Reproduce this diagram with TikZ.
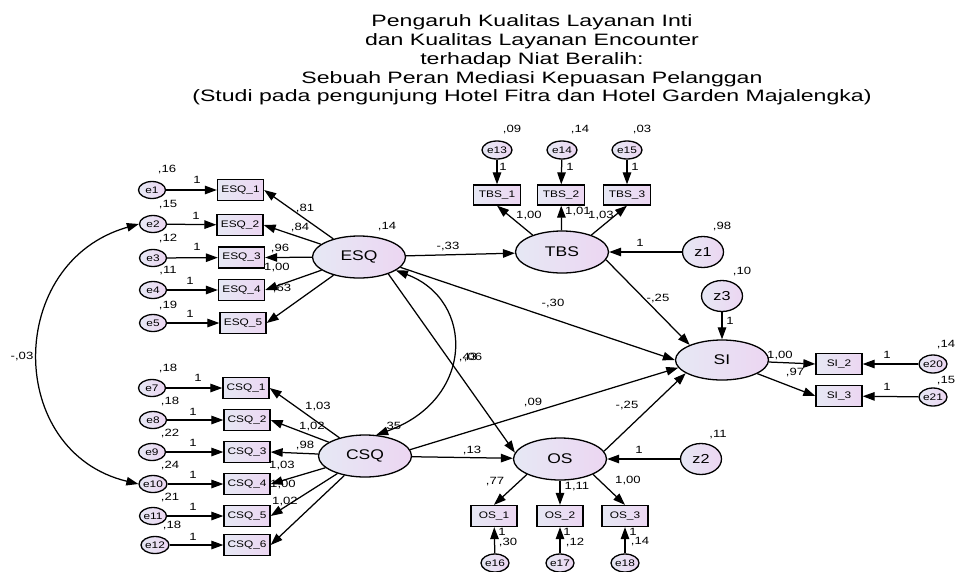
\documentclass[tikz,border=0pt]{standalone}
\usepackage{fontspec}
\setmainfont{Liberation Sans}[FakeStretch=1.25]
\newfontfamily\titlefont{Liberation Sans}[FakeStretch=1.4]
\usetikzlibrary{shapes.geometric,arrows.meta,shadings}
\definecolor{lavL}{RGB}{230,232,244}
\definecolor{lavR}{RGB}{236,214,242}
\begin{document}
\begin{tikzpicture}[x=1pt,y=-1pt,
 every node/.style={inner sep=0pt},
 fillg/.style={left color=lavL,right color=lavR,draw=black,line width=1.3pt},
 lat/.style={fillg,ellipse,minimum width=93pt,minimum height=42pt,font=\fontsize{14}{14}\selectfont},
 err/.style={fillg,ellipse,minimum width=28pt,minimum height=18pt,font=\fontsize{9.5}{9.5}\selectfont},
 dst/.style={fillg,ellipse,minimum width=41pt,minimum height=31pt,font=\fontsize{13}{13}\selectfont},
 obs/.style={fillg,rectangle,minimum width=46pt,minimum height=21pt,font=\fontsize{9.5}{9.5}\selectfont},
 lbl/.style={font=\fontsize{10.5}{10.5}\selectfont},
 arr/.style={line width=1.25pt,-{Triangle[length=12pt,width=8.5pt]}},
 dbl/.style={line width=1.25pt,{Triangle[length=12pt,width=8.5pt]}-{Triangle[length=12pt,width=8.5pt]}},
]
\fill[white] (0,0) rectangle (956,571);
\useasboundingbox (0,0) rectangle (956,571);

\node[font=\titlefont\fontsize{16.5}{18.8}\selectfont,align=center] (title) at (532,60)
 {Pengaruh Kualitas Layanan Inti\\dan Kualitas Layanan Encounter\\terhadap Niat Beralih:\\Sebuah Peran Mediasi Kepuasan Pelanggan\\(Studi pada pengunjung Hotel Fitra dan Hotel Garden Majalengka)};

% latent variables
\node[lat] (esq) at (359,257) {ESQ};
\node[lat] (csq) at (365,456) {CSQ};
\node[lat] (tbs) at (562,252) {TBS};
\node[lat] (os) at (560,459) {OS};
\node[lat,minimum height=40pt] (si) at (722,360) {SI};

% disturbances
\node[dst] (z1) at (703,252) {z1};
\node[dst] (z2) at (701,459) {z2};
\node[dst] (z3) at (722,296) {z3};

% ESQ indicators
\node[obs] (esq1) at (240.5,190) {ESQ\_1};
\node[obs] (esq2) at (240,225) {ESQ\_2};
\node[obs] (esq3) at (241.5,257.5) {ESQ\_3};
\node[obs] (esq4) at (241.5,290) {ESQ\_4};
\node[obs] (esq5) at (243,323) {ESQ\_5};
\node[err,minimum width=27pt,minimum height=17pt] (e1) at (152,190) {e1};
\node[err,minimum width=27pt,minimum height=17pt] (e2) at (153,224) {e2};
\node[err,minimum width=27pt,minimum height=17pt] (e3) at (153,258) {e3};
\node[err,minimum width=27pt,minimum height=17pt] (e4) at (153,290) {e4};
\node[err,minimum width=27pt,minimum height=17pt] (e5) at (153,323) {e5};

% CSQ indicators
\node[obs] (csq1) at (246,388) {CSQ\_1};
\node[obs] (csq2) at (247,420) {CSQ\_2};
\node[obs] (csq3) at (247,452) {CSQ\_3};
\node[obs] (csq4) at (247,484) {CSQ\_4};
\node[obs] (csq5) at (247,516) {CSQ\_5};
\node[obs] (csq6) at (247,545) {CSQ\_6};
\node[err,minimum width=27pt,minimum height=17pt] (e7) at (152,388) {e7};
\node[err,minimum width=27pt,minimum height=17pt] (e8) at (153,420) {e8};
\node[err,minimum width=27pt,minimum height=17pt] (e9) at (152,452) {e9};
\node[err,minimum width=27pt,minimum height=17pt] (e10) at (153,484) {e10};
\node[err,minimum width=27pt,minimum height=17pt] (e11) at (153,516) {e11};
\node[err,minimum width=27pt,minimum height=17pt] (e12) at (155,545) {e12};

% TBS indicators
\node[obs,minimum width=47pt,minimum height=20pt] (tbs1) at (497,195) {TBS\_1};
\node[obs,minimum width=47pt,minimum height=20pt] (tbs2) at (561,195) {TBS\_2};
\node[obs,minimum width=47pt,minimum height=20pt] (tbs3) at (627,195) {TBS\_3};
\node[err,minimum width=30pt] (e13) at (497,150) {e13};
\node[err,minimum width=30pt] (e14) at (562,150) {e14};
\node[err,minimum width=30pt] (e15) at (627,150) {e15};

% OS indicators
\node[obs] (os1) at (494,516) {OS\_1};
\node[obs] (os2) at (560,516) {OS\_2};
\node[obs] (os3) at (625,516) {OS\_3};
\node[err] (e16) at (495,563) {e16};
\node[err] (e17) at (560,563) {e17};
\node[err] (e18) at (625,563) {e18};

% SI indicators
\node[obs] (si2) at (839,364) {SI\_2};
\node[obs] (si3) at (839,396) {SI\_3};
\node[err,minimum width=27pt] (e20) at (933,364) {e20};
\node[err,minimum width=27pt] (e21) at (933,397) {e21};

% measurement arrows
\foreach \e/\b in {e1/esq1,e2/esq2,e3/esq3,e4/esq4,e5/esq5,e7/csq1,e8/csq2,e9/csq3,e10/csq4,e11/csq5,e12/csq6}
  \draw[arr] (\e) -- (\b);
\foreach \b in {esq1,esq2,esq3,esq4,esq5}
  \draw[arr] (esq) -- (\b.east);
\foreach \b in {csq1,csq2,csq3,csq4,csq5,csq6}
  \draw[arr] (csq) -- (\b.east);
\foreach \e/\b in {e13/tbs1,e14/tbs2,e15/tbs3,e16/os1,e17/os2,e18/os3,e20/si2,e21/si3}
  \draw[arr] (\e) -- (\b);
\draw[arr] (tbs.150) -- (tbs1.south);
\draw[arr] (tbs) -- (tbs2);
\draw[arr] (tbs.30) -- (tbs3.south);
\draw[arr] (os.-155) -- (os1.north);
\draw[arr] (os) -- (os2);
\draw[arr] (os.-25) -- (os3.north);
\draw[arr] (si) -- (si2.west);
\draw[arr] (si) -- (si3.west);

% structural arrows
\draw[arr] (esq) -- (tbs);
\draw[arr] (esq.-14) -- (si.west);
\draw[arr] (esq.-30) -- (os.172);
\draw[arr] (tbs.-10) -- (si.155);
\draw[arr] (csq.8) -- (si.190);
\draw[arr] (csq) -- (os);
\draw[arr] (os.10) -- (si.200);
\draw[arr] (z1) -- (tbs);
\draw[arr] (z2) -- (os);
\draw[arr] (z3) -- (si);

% covariances
\draw[dbl] (esq.-20) .. controls (475,300) and (475,400) .. (csq.62);
\draw[dbl] (e2.west) .. controls (5,262) and (5,452) .. (e10.west);

% labels ESQ block
\node[lbl] (l1) at (167,170) {,16};
\node[lbl] (l2) at (168,205) {,15};
\node[lbl] (l3) at (168,239) {,12};
\node[lbl] (l4) at (168,271) {,11};
\node[lbl] (l5) at (168,305) {,19};
\node[lbl] (l6) at (197,180) {1};
\node[lbl] (l7) at (196,216) {1};
\node[lbl] (l8) at (197,247) {1};
\node[lbl] (l9) at (190,281) {1};
\node[lbl] (l10) at (190,314) {1};
\node[lbl] (l11) at (305,209) {,81};
\node[lbl] (l12) at (300,228) {,84};
\node[lbl] (l13) at (280,248) {,96};
\node[lbl] (l14) at (277,268) {1,00};
\node[lbl] (l15) at (282,288) {,63};
\node[lbl] (l16) at (387,227) {,14};
% labels CSQ block
\node[lbl] (l17) at (168,368) {,18};
\node[lbl] (l18) at (170,401) {,18};
\node[lbl] (l19) at (170,433) {,22};
\node[lbl] (l20) at (170,465) {,24};
\node[lbl] (l21) at (170,497) {,21};
\node[lbl] (l22) at (172,525) {,18};
\node[lbl] (l23) at (198,378) {1};
\node[lbl] (l24) at (193,412) {1};
\node[lbl] (l25) at (193,443) {1};
\node[lbl] (l26) at (193,475) {1};
\node[lbl] (l27) at (193,507) {1};
\node[lbl] (l28) at (193,537) {1};
\node[lbl] (l29) at (318,406) {1,03};
\node[lbl] (l30) at (312,426) {1,02};
\node[lbl] (l31) at (305,445) {,98};
\node[lbl] (l32) at (282,465) {1,03};
\node[lbl] (l33) at (283,484) {1,00};
\node[lbl] (l34) at (285,501) {1,02};
\node[lbl] (l35) at (392,426) {,35};
\node[lbl] (l36) at (22,356) {-,03};
% labels TBS
\node[lbl] (l37) at (512,130) {,09};
\node[lbl] (l38) at (580,130) {,14};
\node[lbl] (l39) at (642,130) {,03};
\node[lbl] (l40) at (503,167) {1};
\node[lbl] (l41) at (570,167) {1};
\node[lbl] (l42) at (635,167) {1};
\node[lbl] (l43) at (529,215) {1,00};
\node[lbl] (l44) at (578,212) {1,01};
\node[lbl] (l45) at (601,215) {1,03};
\node[lbl] (l46) at (448,247) {-,33};
\node[lbl] (l47) at (640,243) {1};
\node[lbl] (l48) at (722,227) {,98};
% labels SI
\node[lbl] (l49) at (742,272) {,10};
\node[lbl] (l50) at (730,321) {1};
\node[lbl] (l51) at (658,298) {-,25};
\node[lbl] (l52) at (780,355) {1,00};
\node[lbl] (l53) at (795,372) {,97};
\node[lbl] (l54) at (887,355) {1};
\node[lbl] (l55) at (887,387) {1};
\node[lbl] (l56) at (946,345) {,14};
\node[lbl] (l57) at (946,381) {,15};
% labels OS
\node[lbl] (l58) at (718,435) {,11};
\node[lbl] (l59) at (639,450) {1};
\node[lbl] (l60) at (472,450) {,13};
\node[lbl] (l61) at (533,402) {,09};
\node[lbl] (l62) at (627,405) {-,25};
\node[lbl] (l63) at (495,482) {,77};
\node[lbl] (l64) at (577,487) {1,11};
\node[lbl] (l65) at (628,480) {1,00};
\node[lbl] (l66) at (502,532) {1};
\node[lbl] (l67) at (508,542) {,30};
\node[lbl] (l68) at (567,532) {1};
\node[lbl] (l69) at (575,542) {,12};
\node[lbl] (l70) at (633,532) {1};
\node[lbl] (l71) at (640,542) {,14};
% middle labels
\node[lbl] (l72) at (553,303) {-,30};
\node[lbl] (l73) at (468,357) {,43};
\node[lbl] (l74) at (473,357) {,06};
\end{tikzpicture}
\end{document}
